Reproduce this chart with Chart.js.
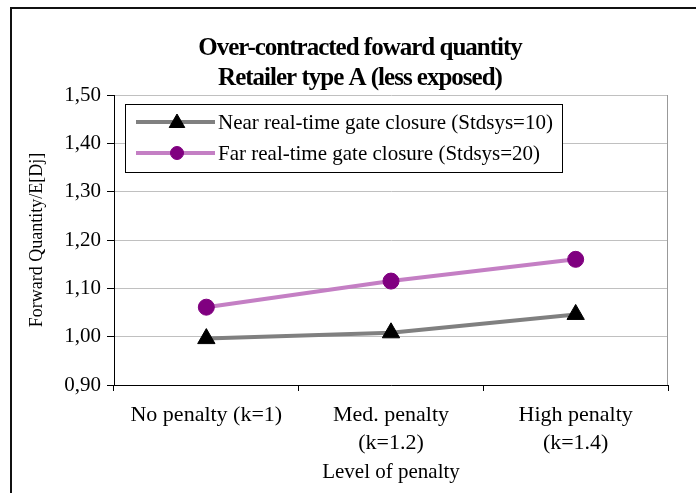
<!DOCTYPE html>
<html>
<head>
<meta charset="utf-8">
<script src="https://cdn.jsdelivr.net/npm/chart.js@4/dist/chart.umd.min.js"></script>
<style>
  html, body { margin: 0; padding: 0; background: #fff; }
  #wrap { width: 696px; height: 493px; position: relative; }
</style>
</head>
<body>
<div id="wrap"><canvas id="chart" width="696" height="493"></canvas></div>
<script>
const categories = [["No penalty (k=1)"], ["Med. penalty", "(k=1.2)"], ["High penalty", "(k=1.4)"]];
const nearValues = [0.996, 1.008, 1.046];
const farValues = [1.061, 1.115, 1.160];
const yTicks = { min: 0.9, max: 1.5, step: 0.1 };
const titleLines = ["Over-contracted foward quantity", "Retailer type A (less exposed)"];
const seriesNames = ["Near real-time gate closure (Stdsys=10)", "Far real-time gate closure (Stdsys=20)"];

const serif = '"Liberation Serif", "Times New Roman", serif';

// frame + title + legend drawn on the canvas
const decor = {
  id: "decor",
  beforeDraw(chart) {
    const ctx = chart.ctx;
    ctx.save();
    ctx.fillStyle = "#fff";
    ctx.fillRect(0, 0, chart.width, chart.height);
    ctx.strokeStyle = "#111";
    ctx.lineWidth = 2;
    ctx.strokeRect(11, 8, 760, 560);
    ctx.restore();
  },
  afterDraw(chart) {
    const ctx = chart.ctx;
    const a = chart.chartArea;
    ctx.save();
    // right border of plot
    ctx.strokeStyle = "#999";
    ctx.lineWidth = 1;
    ctx.beginPath();
    ctx.moveTo(a.right - 0.5, a.top);
    ctx.lineTo(a.right - 0.5, a.bottom);
    ctx.stroke();

    // title
    ctx.fillStyle = "#000";
    ctx.font = "bold 25px " + serif;
    ctx.letterSpacing = "-1px";
    ctx.textAlign = "center";
    ctx.textBaseline = "alphabetic";
    ctx.fillText(titleLines[0], 360, 55);
    ctx.fillText(titleLines[1], 360, 85);
    ctx.letterSpacing = "0px";

    // legend
    ctx.fillStyle = "#fff";
    ctx.fillRect(125.5, 104.5, 437, 68);
    ctx.strokeStyle = "#000";
    ctx.lineWidth = 1;
    ctx.strokeRect(125.5, 104.5, 437, 68);
    const rows = [122, 153];
    chart.data.datasets.forEach((ds, i) => {
      const y = rows[i];
      ctx.strokeStyle = ds.borderColor;
      ctx.lineWidth = 4;
      ctx.beginPath();
      ctx.moveTo(136, y);
      ctx.lineTo(215, y);
      ctx.stroke();
      ctx.fillStyle = ds.pointBackgroundColor;
      ctx.strokeStyle = ds.pointBorderColor;
      ctx.lineWidth = 1;
      Chart.helpers.drawPoint(ctx, {
        pointStyle: ds.pointStyle,
        radius: ds.pointStyle === "circle" ? 6.5 : 9,
        borderWidth: 1,
        rotation: 0
      }, 177, ds.pointStyle === "circle" ? y : y + 1);
      ctx.fillStyle = "#000";
      ctx.font = "21px " + serif;
      ctx.textAlign = "left";
      ctx.textBaseline = "middle";
      ctx.fillText(seriesNames[i], 218, y + 1);
    });
    ctx.restore();
  }
};

new Chart(document.getElementById("chart"), {
  type: "line",
  data: {
    labels: categories,
    datasets: [
      {
        label: seriesNames[0],
        data: nearValues,
        borderColor: "#808080",
        borderWidth: 4,
        pointStyle: "triangle",
        pointRadius: 10,
        pointBackgroundColor: "#000",
        pointBorderColor: "#000",
        pointBorderWidth: 1,
        tension: 0
      },
      {
        label: seriesNames[1],
        data: farValues,
        borderColor: "#c47fc4",
        borderWidth: 4,
        pointStyle: "circle",
        pointRadius: 8,
        pointBackgroundColor: "#800080",
        pointBorderColor: "#800080",
        pointBorderWidth: 1,
        tension: 0
      }
    ]
  },
  options: {
    responsive: false,
    animation: false,
    layout: { padding: { top: 95, right: 28, left: 0, bottom: 0 } },
    plugins: {
      legend: { display: false },
      title: { display: false },
      tooltip: { enabled: false }
    },
    scales: {
      x: {
        offset: true,
        afterFit: (s) => { s.height = 108; },
        grid: { display: true, drawOnChartArea: false, drawTicks: true, tickLength: 6, tickColor: "#000", offset: true },
        border: { color: "#000", width: 1 },
        ticks: {
          color: "#000",
          font: { family: serif, size: 22, lineHeight: 1.27 },
          padding: 10,
          maxRotation: 0,
          autoSkip: false
        },
        title: {
          display: true,
          text: "Level of penalty",
          color: "#000",
          font: { family: serif, size: 21, lineHeight: 1.2 },
          padding: { top: 0, bottom: 8 }
        }
      },
      y: {
        min: yTicks.min,
        max: yTicks.max,
        afterFit: (s) => { s.width = 114; },
        grid: { color: "#c0c0c0", drawTicks: true, tickLength: 7, tickColor: "#000" },
        border: { color: "#000", width: 1 },
        ticks: {
          stepSize: yTicks.step,
          color: "#000",
          font: { family: serif, size: 21 },
          padding: 6,
          callback: (v) => Number(v).toFixed(2).replace(".", ",")
        },
        title: {
          display: true,
          text: "Forward Quantity/E[Dj]",
          color: "#000",
          font: { family: serif, size: 18, lineHeight: 1.2 },
          padding: { top: 26, bottom: 0 }
        }
      }
    }
  },
  plugins: [decor]
});
</script>
</body>
</html>
